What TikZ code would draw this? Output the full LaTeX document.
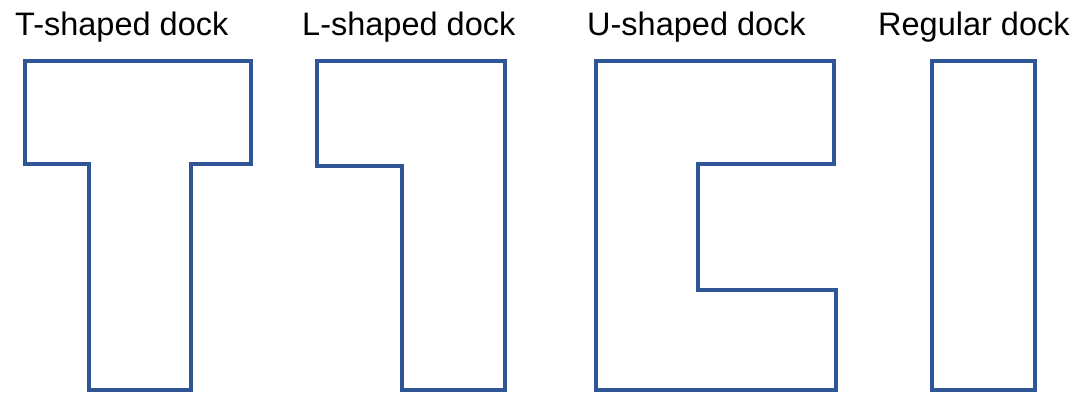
\documentclass[tikz,border=0pt]{standalone}
\usepackage{fontspec}
\setmainfont{Liberation Sans}
\definecolor{dockblue}{RGB}{47,85,151}
\begin{document}
\begin{tikzpicture}[x=1pt,y=-1pt,
  dockline/.style={draw=dockblue,line width=3.2pt,line join=miter,fill=white},
  docklabel/.style={anchor=base west,inner sep=0pt,font=\fontsize{32.5}{38}\selectfont,text=black}]
\useasboundingbox[fill=white] (0,0) rectangle (1073,392);

% labels
\node[docklabel] (tlab) at (15,35) {T-shaped dock};
\node[docklabel] (llab) at (302,35) {L-shaped dock};
\node[docklabel] (ulab) at (587,35) {U-shaped dock};
\node[docklabel] (rlab) at (878,35) {Regular dock};

% T-shaped dock
\draw[dockline] (25,61) -- (251,61) -- (251,164) -- (191,164) -- (191,390)
  -- (89,390) -- (89,164) -- (25,164) -- cycle;

% L-shaped dock
\draw[dockline] (317,61) -- (505,61) -- (505,390) -- (402,390) -- (402,166)
  -- (317,166) -- cycle;

% U-shaped dock
\draw[dockline] (596,61) -- (834,61) -- (834,164) -- (698,164) -- (698,290)
  -- (836,290) -- (836,390) -- (596,390) -- cycle;

% regular dock
\draw[dockline] (932,61) rectangle (1035,390);
\end{tikzpicture}
\end{document}
